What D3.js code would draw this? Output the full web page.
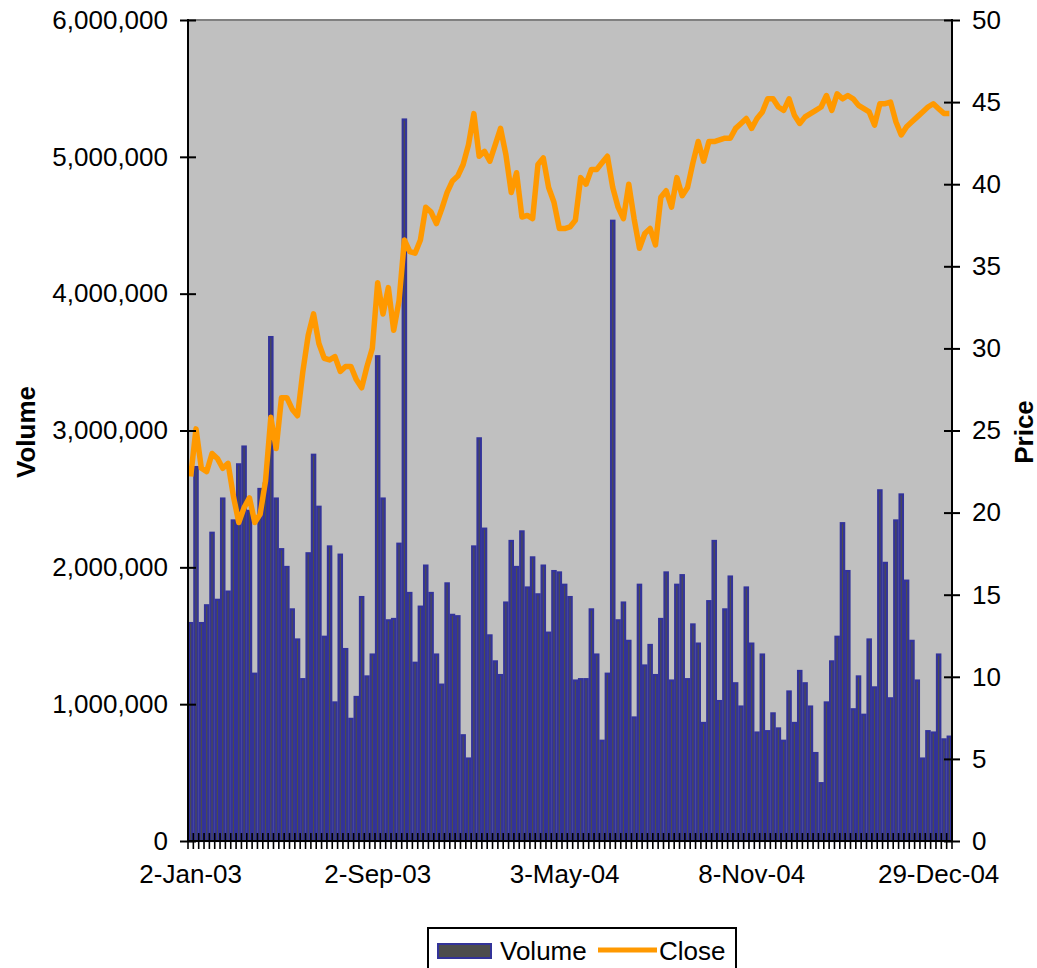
<!DOCTYPE html>
<html>
<head>
<meta charset="utf-8">
<script src="https://cdnjs.cloudflare.com/ajax/libs/d3/7.8.5/d3.min.js"></script>
<style>
    body { margin: 0; background: #fff; }
    svg text { font-family: "Liberation Sans", Arial, sans-serif; }
</style>
</head>
<body>
<div id="chart"></div>
<script>
// weekly volume (shares)
var volumes = [
    1600000, 2740000, 1600000, 1730000, 2260000, 1770000, 2510000, 1830000, 2350000, 2760000,
    2890000, 2420000, 1230000, 2580000, 2620000, 3690000, 2510000, 2140000, 2010000, 1700000,
    1480000, 1190000, 2110000, 2830000, 2450000, 1500000, 2160000, 1020000, 2100000, 1410000,
    900000, 1060000, 1790000, 1210000, 1370000, 3550000, 2510000, 1620000, 1630000, 2180000,
    5280000, 1820000, 1310000, 1720000, 2020000, 1820000, 1370000, 1150000, 1890000, 1660000,
    1650000, 780000, 610000, 2160000, 2950000, 2290000, 1510000, 1320000, 1220000, 1750000,
    2200000, 2010000, 2270000, 1860000, 2080000, 1810000, 2020000, 1530000, 1980000, 1970000,
    1880000, 1790000, 1180000, 1190000, 1190000, 1700000, 1370000, 740000, 1230000, 4540000,
    1620000, 1750000, 1470000, 910000, 1880000, 1290000, 1440000, 1220000, 1630000, 1970000,
    1180000, 1880000, 1950000, 1190000, 1590000, 1450000, 870000, 1760000, 2200000, 1030000,
    1700000, 1940000, 1160000, 990000, 1860000, 1450000, 800000, 1370000, 810000, 940000,
    830000, 740000, 1100000, 870000, 1250000, 1160000, 990000, 650000, 430000, 1020000,
    1320000, 1500000, 2330000, 1980000, 970000, 1210000, 930000, 1480000, 1130000, 2570000,
    2040000, 1050000, 2350000, 2540000, 1910000, 1470000, 1180000, 610000, 810000, 800000,
    1370000, 750000, 770000
];

// closing price
var closes = [
    22.2, 25.1, 22.7, 22.5, 23.6, 23.3, 22.7, 23.0, 21.0, 19.4,
    20.3, 20.9, 19.4, 19.9, 21.9, 25.8, 23.9, 27.0, 27.0, 26.3,
    25.9, 28.6, 30.8, 32.1, 30.3, 29.4, 29.3, 29.5, 28.6, 28.9,
    28.9, 28.1, 27.6, 28.9, 30.0, 34.0, 32.1, 33.7, 31.1, 32.9,
    36.6, 35.9, 35.8, 36.6, 38.6, 38.3, 37.6, 38.5, 39.5, 40.2,
    40.5, 41.2, 42.4, 44.3, 41.7, 42.0, 41.4, 42.4, 43.4, 41.8,
    39.5, 40.7, 38.0, 38.1, 37.9, 41.2, 41.6, 39.8, 38.9, 37.3,
    37.3, 37.4, 37.8, 40.4, 40.0, 40.9, 40.9, 41.3, 41.7, 39.8,
    38.6, 37.9, 40.0, 37.9, 36.1, 37.0, 37.3, 36.3, 39.2, 39.6,
    38.6, 40.4, 39.3, 39.8, 41.3, 42.6, 41.4, 42.6, 42.6, 42.7,
    42.8, 42.8, 43.4, 43.7, 44.0, 43.4, 44.0, 44.4, 45.2, 45.2,
    44.7, 44.5, 45.2, 44.2, 43.7, 44.1, 44.3, 44.5, 44.7, 45.4,
    44.5, 45.5, 45.2, 45.4, 45.2, 44.8, 44.6, 44.4, 43.6, 44.9,
    44.9, 45.0, 43.8, 43.0, 43.5, 43.8, 44.1, 44.4, 44.7, 44.9,
    44.6, 44.3, 44.3
];

// category axis labels (shown every 35th week)
var labelIndex = [0, 35, 70, 105, 140];
var labelText = ["2-Jan-03", "2-Sep-03", "3-May-04", "8-Nov-04", "29-Dec-04"];

var volumeTicks = [0, 1000000, 2000000, 3000000, 4000000, 5000000, 6000000];
var priceTicks = [0, 5, 10, 15, 20, 25, 30, 35, 40, 45, 50];

var width = 1037, height = 968;
var plotLeft = 188, plotRight = 952, plotTop = 20, plotBottom = 841;
var fontPx = '26px';

var svg = d3.select("#chart").append("svg")
    .attr("width", width)
    .attr("height", height)
    .style("background-color", "#fff");

var x = d3.scaleBand()
    .domain(d3.range(volumes.length))
    .range([plotLeft, plotRight])
    .padding(0);
var yVol = d3.scaleLinear().domain([0, 6000000]).range([plotBottom, plotTop]);
var yPrice = d3.scaleLinear().domain([0, 50]).range([plotBottom, plotTop]);
var bw = x.bandwidth();

// plot area
svg.append("rect")
    .attr("x", plotLeft)
    .attr("y", plotTop)
    .attr("width", plotRight - plotLeft)
    .attr("height", plotBottom - plotTop)
    .attr("fill", "#c0c0c0");
svg.append("line")
    .attr("x1", plotLeft).attr("x2", plotRight)
    .attr("y1", plotTop).attr("y2", plotTop)
    .attr("stroke", "#808080")
    .attr("stroke-width", 2);

// volume bars
svg.append("g").attr("class", "bars")
    .selectAll("rect")
    .data(volumes)
    .enter().append("rect")
    .attr("x", function (d, i) { return x(i) + 1; })
    .attr("y", function (d) { return yVol(d) + 1; })
    .attr("width", bw - 2)
    .attr("height", function (d) { return Math.max(0, plotBottom - yVol(d) - 1); })
    .attr("fill", "#4d4d4d")
    .attr("stroke", "#333399")
    .attr("stroke-width", 2.2);

// close line
var line = d3.line()
    .x(function (d, i) { return x(i) + bw / 2; })
    .y(function (d) { return yPrice(d); });
svg.append("path")
    .datum(closes)
    .attr("d", line)
    .attr("fill", "none")
    .attr("stroke", "#ff9900")
    .attr("stroke-width", 5.5)
    .attr("stroke-linejoin", "round");

// left axis
var gLeft = svg.append("g")
    .attr("transform", "translate(" + plotLeft + ",0)")
    .call(d3.axisLeft(yVol).tickValues(volumeTicks).tickFormat(d3.format(","))
        .tickSize(8).tickSizeOuter(0).tickPadding(12));
gLeft.select(".domain").remove();
gLeft.selectAll(".tick line").attr("x1", 8).attr("stroke", "#000").attr("stroke-width", 2);
gLeft.selectAll(".tick text").attr("font-size", fontPx).attr("fill", "#000");
gLeft.append("line")
    .attr("x1", 0).attr("x2", 0)
    .attr("y1", plotTop - 1).attr("y2", plotBottom + 1)
    .attr("stroke", "#000").attr("stroke-width", 2);

// right axis
var gRight = svg.append("g")
    .attr("transform", "translate(" + plotRight + ",0)")
    .call(d3.axisRight(yPrice).tickValues(priceTicks)
        .tickSize(8).tickSizeOuter(0).tickPadding(12));
gRight.select(".domain").remove();
gRight.selectAll(".tick line").attr("x1", -8).attr("stroke", "#000").attr("stroke-width", 2);
gRight.selectAll(".tick text").attr("font-size", fontPx).attr("fill", "#000");
gRight.append("line")
    .attr("x1", 0).attr("x2", 0)
    .attr("y1", plotTop - 1).attr("y2", plotBottom + 1)
    .attr("stroke", "#000").attr("stroke-width", 2);

// bottom axis: tick at every category boundary, crossing the axis line
var gBottom = svg.append("g").attr("class", "xaxis");
gBottom.selectAll("line.tick")
    .data(d3.range(volumes.length + 1))
    .enter().append("line")
    .attr("class", "tick")
    .attr("x1", function (i) { return i < volumes.length ? x(i) : x.range()[1]; })
    .attr("x2", function (i) { return i < volumes.length ? x(i) : x.range()[1]; })
    .attr("y1", plotBottom - 8)
    .attr("y2", plotBottom + 8)
    .attr("stroke", "#000")
    .attr("stroke-width", 1.6);
gBottom.append("line")
    .attr("x1", plotLeft - 1).attr("x2", plotRight + 1)
    .attr("y1", plotBottom).attr("y2", plotBottom)
    .attr("stroke", "#000").attr("stroke-width", 2);
gBottom.selectAll("text")
    .data(labelIndex)
    .enter().append("text")
    .attr("x", function (i) { return x(i) + bw / 2; })
    .attr("y", 883)
    .attr("font-size", fontPx)
    .attr("text-anchor", "middle")
    .text(function (d, k) { return labelText[k]; });

// axis titles
svg.append("text")
    .attr("transform", "translate(35,432) rotate(-90)")
    .attr("text-anchor", "middle")
    .attr("font-size", fontPx)
    .attr("font-weight", "bold")
    .text("Volume");
svg.append("text")
    .attr("transform", "translate(1033,432) rotate(-90)")
    .attr("text-anchor", "middle")
    .attr("font-size", fontPx)
    .attr("font-weight", "bold")
    .text("Price");

// legend
var gLegend = svg.append("g").attr("class", "legend");
gLegend.append("rect")
    .attr("x", 428).attr("y", 928)
    .attr("width", 308).attr("height", 60)
    .attr("fill", "#fff")
    .attr("stroke", "#000")
    .attr("stroke-width", 2);
gLegend.append("rect")
    .attr("x", 438).attr("y", 944)
    .attr("width", 53).attr("height", 14)
    .attr("fill", "#4d4d4d")
    .attr("stroke", "#333399")
    .attr("stroke-width", 2);
gLegend.append("text")
    .attr("x", 500).attr("y", 960)
    .attr("font-size", fontPx)
    .text("Volume");
gLegend.append("line")
    .attr("x1", 598).attr("x2", 657)
    .attr("y1", 950).attr("y2", 950)
    .attr("stroke", "#ff9900")
    .attr("stroke-width", 5);
gLegend.append("text")
    .attr("x", 659).attr("y", 960)
    .attr("font-size", fontPx)
    .text("Close");
</script>
</body>
</html>
